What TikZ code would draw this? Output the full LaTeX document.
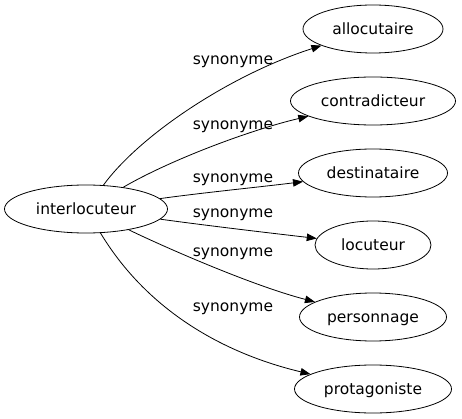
\documentclass[tikz,border=0pt]{standalone}
\usepackage{fontspec}
\setmainfont{DejaVu Sans}
\usetikzlibrary{shapes.geometric,arrows.meta}
\tikzset{
  word/.style={ellipse, draw, line width=0.8pt, inner sep=0pt, minimum height=48pt,
    font=\fontsize{15.5}{18}\selectfont, text height=11.5pt, text depth=0pt},
  rel/.style={draw, line width=0.8pt, -{Triangle[length=10pt,width=7.5pt]}},
  lab/.style={font=\fontsize{15.5}{18}\selectfont, anchor=base, inner sep=0pt}
}
\begin{document}
\begin{tikzpicture}[x=1pt,y=-1pt]
\useasboundingbox (0,0) rectangle (462,419);
\node[word, minimum width=163pt] (i) at (86,209) {interlocuteur};
\node[word, minimum width=140pt] (a1) at (373,29) {allocutaire};
\node[word, minimum width=165pt] (a2) at (373,101) {contradicteur};
\node[word, minimum width=149pt] (a3) at (373,173) {destinataire};
\node[word, minimum width=116pt] (a4) at (373,245) {locuteur};
\node[word, minimum width=147pt] (a5) at (373,317) {personnage};
\node[word, minimum width=157pt] (a6) at (373,389) {protagoniste};
\path[rel] (i) .. controls (140,135) and (230,75) .. (a1);
\path[rel] (i) .. controls (170,160) and (250,130) .. (a2);
\path[rel] (i) .. controls (200,193) and (260,187) .. (a3);
\path[rel] (i) .. controls (210,226) and (270,233) .. (a4);
\path[rel] (i) .. controls (160,245) and (250,285) .. (a5);
\path[rel] (i) .. controls (150,315) and (230,355) .. (a6);
\node[lab] (l1) at (233,65) {synonyme};
\node[lab] (l2) at (233,130) {synonyme};
\node[lab] (l3) at (233,183) {synonyme};
\node[lab] (l4) at (233,218) {synonyme};
\node[lab] (l5) at (233,256) {synonyme};
\node[lab] (l6) at (233,311) {synonyme};
\end{tikzpicture}
\end{document}
